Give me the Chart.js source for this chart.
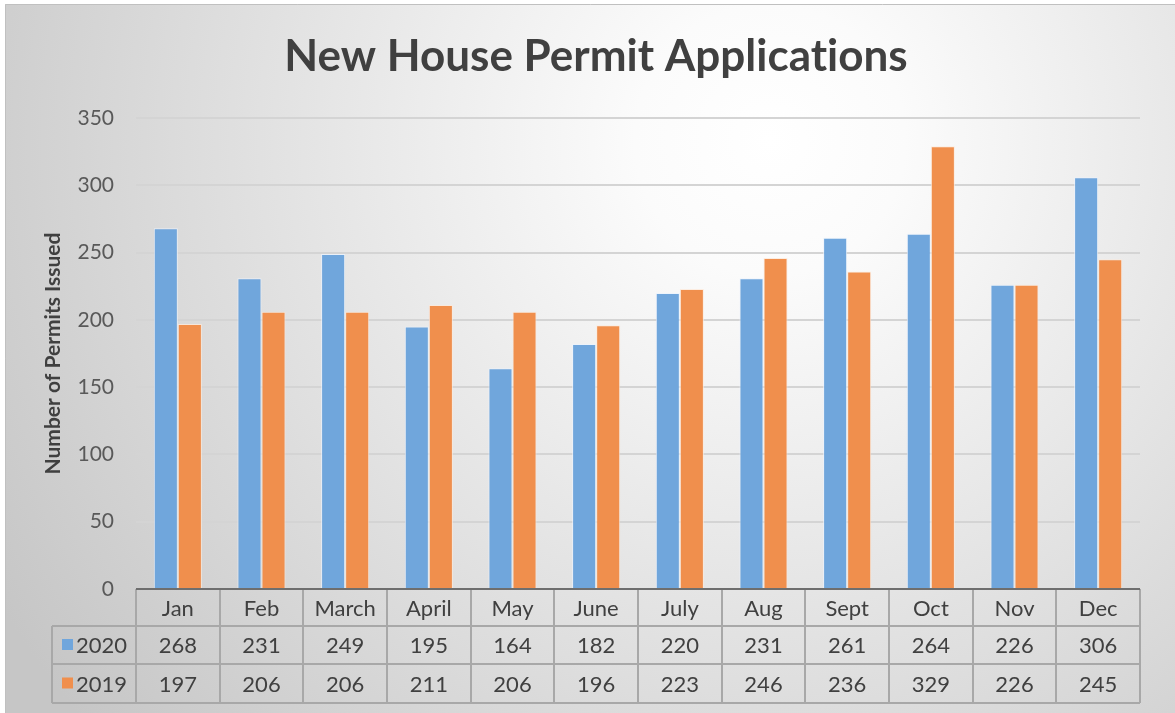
<!DOCTYPE html>
<html>
<head>
<meta charset="utf-8">
<script src="https://cdn.jsdelivr.net/npm/chart.js@4"></script>
<style>
	html, body { margin: 0; padding: 0; background: #ffffff; }
	#wrap { width: 1175px; height: 713px; }
</style>
</head>
<body>
<div id="wrap"><canvas id="permits"></canvas></div>
<script>
const chartTitle = "New House Permit Applications";
const months = ["Jan", "Feb", "March", "April", "May", "June", "July", "Aug", "Sept", "Oct", "Nov", "Dec"];
const permits2020 = [268, 231, 249, 195, 164, 182, 220, 231, 261, 264, 226, 306];
const permits2019 = [197, 206, 206, 211, 206, 196, 223, 246, 236, 329, 226, 245];
const seriesNames = ["2020", "2019"];

const blue = "rgb(112, 166, 220)";
const orange = "rgb(240, 143, 77)";
const textFont = "Lato, 'Open Sans', sans-serif";

// soft radial background like the office chart style, plus the title
const backgroundPlugin = {
	id: "bg",
	beforeDraw(chart) {
		const ctx = chart.ctx;
		const w = chart.width, h = chart.height;
		ctx.save();
		const g = ctx.createRadialGradient(770, 140, 0, 770, 140, 900);
		g.addColorStop(0, "#ffffff");
		g.addColorStop(0.15, "#fbfbfb");
		g.addColorStop(1, "#c6c6c6");
		ctx.fillStyle = g;
		ctx.fillRect(5, 4, w - 5, h - 4);
		ctx.strokeStyle = "#c0c0c0";
		ctx.lineWidth = 1;
		ctx.beginPath();
		ctx.moveTo(5.5, h);
		ctx.lineTo(5.5, 4.5);
		ctx.lineTo(w, 4.5);
		ctx.stroke();

		ctx.textRendering = "optimizeSpeed";
		ctx.fillStyle = "#404040";
		ctx.font = "bold 44px " + textFont;
		ctx.textAlign = "center";
		ctx.textBaseline = "middle";
		ctx.fillText(chartTitle, 596, 57);
		ctx.restore();
	}
};

// data table under the plot, drawn from the x scale
const tablePlugin = {
	id: "dataTable",
	afterDraw(chart) {
		const ctx = chart.ctx;
		const area = chart.chartArea;
		const x = chart.scales.x;
		const step = (area.right - area.left) / months.length;
		const rows = [area.bottom, area.bottom + 37, area.bottom + 75, area.bottom + 114];
		const leftCol = 52;
		ctx.save();

		ctx.strokeStyle = "#a8a8a8";
		ctx.lineWidth = 2;
		ctx.beginPath();
		for (let i = 0; i <= months.length; i++) {
			const lx = Math.round(area.left + i * step);
			ctx.moveTo(lx, rows[0]);
			ctx.lineTo(lx, rows[3]);
		}
		for (let r = 1; r < rows.length; r++) {
			ctx.moveTo(leftCol, rows[r]);
			ctx.lineTo(area.right, rows[r]);
		}
		ctx.moveTo(leftCol, rows[1]);
		ctx.lineTo(leftCol, rows[3]);
		ctx.stroke();

		// axis line
		ctx.strokeStyle = "#6e6e6e";
		ctx.lineWidth = 2;
		ctx.beginPath();
		ctx.moveTo(area.left, area.bottom);
		ctx.lineTo(area.right, area.bottom);
		ctx.stroke();

		ctx.fillStyle = "#404040";
		ctx.font = "22px " + textFont;
		ctx.textAlign = "center";
		ctx.textBaseline = "middle";
		months.forEach((m, i) => {
			const cx = x.getPixelForValue(i);
			ctx.fillText(m, cx, (rows[0] + rows[1]) / 2 + 1);
			ctx.fillText(String(permits2020[i]), cx, (rows[1] + rows[2]) / 2 + 1);
			ctx.fillText(String(permits2019[i]), cx, (rows[2] + rows[3]) / 2 + 1);
		});

		// series keys
		const keyColors = [blue, orange];
		seriesNames.forEach((name, r) => {
			const cy = (rows[r + 1] + rows[r + 2]) / 2;
			ctx.fillStyle = keyColors[r];
			ctx.fillRect(62, cy - 6, 11, 11);
			ctx.fillStyle = "#404040";
			ctx.textAlign = "left";
			ctx.fillText(name, 76, cy + 1);
		});
		ctx.restore();
	}
};

new Chart(document.getElementById("permits"), {
	type: "bar",
	data: {
		labels: months,
		datasets: [
			{
				label: seriesNames[0],
				data: permits2020,
				backgroundColor: blue,
				borderColor: "rgba(235, 243, 252, 0.8)",
				borderWidth: 1,
			},
			{
				label: seriesNames[1],
				data: permits2019,
				backgroundColor: orange,
				borderColor: "rgba(252, 232, 218, 0.8)",
				borderWidth: 1,
			},
		],
	},
	options: {
		responsive: true,
		maintainAspectRatio: false,
		animation: false,
		layout: { padding: { left: 0, right: 35, top: 118, bottom: 124 } },
		datasets: { bar: { categoryPercentage: 0.575, barPercentage: 1 } },
		plugins: {
			legend: { display: false },
			tooltip: { enabled: false },
			title: { display: false },
		},
		scales: {
			x: {
				display: false,
				offset: true,
			},
			y: {
				min: 0,
				max: 350,
				afterFit(scale) { scale.width = 136; },
				border: { display: false },
				grid: { color: "#d4d4d4", lineWidth: 2, drawTicks: false },
				ticks: {
					stepSize: 50,
					padding: 22,
					color: "#595959",
					font: { family: textFont, size: 21 },
				},
				title: {
					display: true,
					text: "Number of Permits Issued",
					color: "#404040",
					font: { family: textFont, size: 21, weight: "bold" },
					padding: { top: 41, bottom: 0 },
				},
			},
		},
	},
	plugins: [backgroundPlugin, tablePlugin],
});
</script>
</body>
</html>
